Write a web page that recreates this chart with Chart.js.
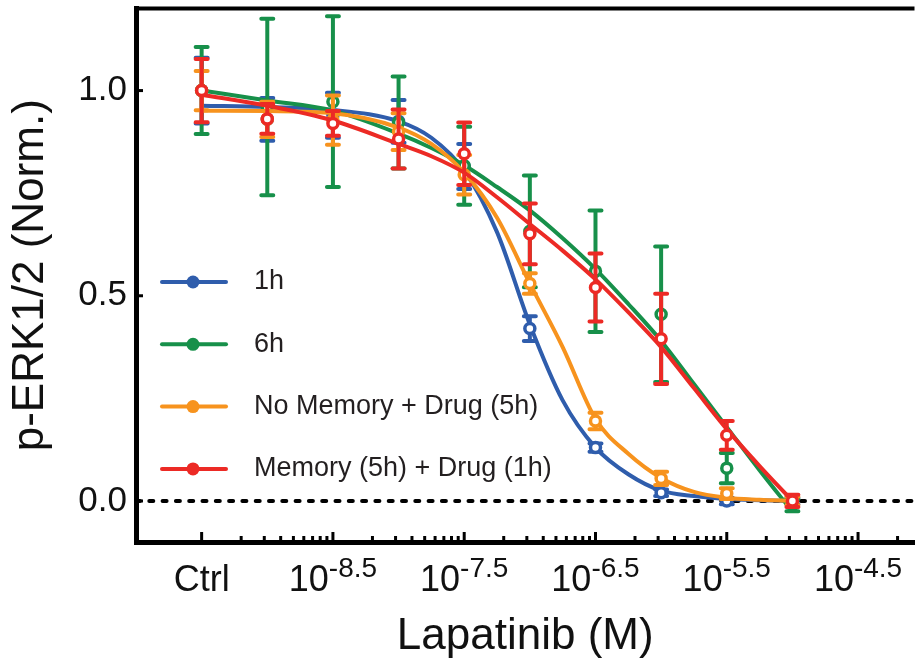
<!DOCTYPE html>
<html>
<head>
<meta charset="utf-8">
<script src="https://cdn.jsdelivr.net/npm/chart.js@4.4.1/dist/chart.umd.min.js"></script>
<style>
  html, body { margin: 0; padding: 0; background: #fff; overflow: hidden; }
  canvas { display: block; }
</style>
</head>
<body>
<canvas id="erk" width="923" height="667"></canvas>
<script>
// log10 of lapatinib dose (M); Ctrl is parked half a decade below the lowest dose
const doses = [-9.5, -9, -8.5, -8, -7.5, -7, -6.5, -6, -5.5, -5];

const mean1h = [1.0, 0.93, 0.94, 0.925, 0.815, 0.42, 0.13, 0.02, 0.0, 0.0];
const sem1h = [0.08, 0.052, 0.055, 0.052, 0.055, 0.03, 0.01, 0.008, 0.008, 0.008];
const mean6h = [1.0, 0.96, 0.973, 0.922, 0.817, 0.657, 0.56, 0.455, 0.08, -0.01];
const sem6h = [0.106, 0.215, 0.208, 0.112, 0.095, 0.136, 0.148, 0.165, 0.037, 0.015];
const meanNoMem = [1.0, 0.93, 0.928, 0.9, 0.795, 0.53, 0.195, 0.055, 0.018, 0.0];
const semNoMem = [0.048, 0.043, 0.06, 0.045, 0.048, 0.025, 0.02, 0.016, 0.013, 0.01];
const meanMem = [1.0, 0.931, 0.92, 0.882, 0.846, 0.651, 0.52, 0.395, 0.16, 0.0];
const semMem = [0.077, 0.036, 0.03, 0.072, 0.076, 0.074, 0.083, 0.11, 0.035, 0.015];

// dose-response fits
const fitDoses = [-9.5, -9, -8.5, -8, -7.75, -7.5, -7.25, -7, -6.75, -6.5, -6.25, -6, -5.75, -5.5, -5.25, -5];
const fit1h = [0.963, 0.96, 0.953, 0.925, 0.885, 0.805, 0.655, 0.43, 0.245, 0.13, 0.065, 0.025, 0.012, 0.005, 0.002, 0.0];
const fit6h = [1.0, 0.976, 0.951, 0.895, 0.86, 0.818, 0.765, 0.708, 0.64, 0.565, 0.48, 0.39, 0.285, 0.18, 0.075, -0.026];
const fitNoMem = [0.951, 0.95, 0.945, 0.91, 0.87, 0.8, 0.69, 0.53, 0.375, 0.2, 0.115, 0.056, 0.022, 0.008, 0.003, 0.0];
const fitMem = [0.99, 0.963, 0.927, 0.87, 0.84, 0.8, 0.74, 0.675, 0.61, 0.54, 0.46, 0.375, 0.275, 0.175, 0.085, 0.0];

const seriesNames = ['1h', '6h', 'No Memory + Drug (5h)', 'Memory (5h) + Drug (1h)'];
const seriesColors = ['#2f5dac', '#17904a', '#f7931e', '#ec2a25'];
const seriesMeans = [mean1h, mean6h, meanNoMem, meanMem];
const seriesSems = [sem1h, sem6h, semNoMem, semMem];
const seriesFits = [fit1h, fit6h, fitNoMem, fitMem];

const xTicks = [-9.5, -8.5, -7.5, -6.5, -5.5, -4.5];
const xTickLabels = ['Ctrl', '10^-8.5', '10^-7.5', '10^-6.5', '10^-5.5', '10^-4.5'];
const yTicks = [0, 0.5, 1.0];

const X_MIN = -10, X_MAX = -4.07;
const FONT = "'Liberation Sans', Arial, sans-serif";
const INK = '#111';

Chart.defaults.font.family = FONT;
Chart.defaults.color = INK;

const datasets = [{
    label: 'baseline',
    data: [{ x: X_MIN, y: 0 }, { x: X_MAX, y: 0 }],
    borderColor: '#000',
    borderWidth: 4,
    borderDash: [4, 9.3],
    borderCapStyle: 'round',
    pointRadius: 0,
    order: 20
}];

seriesNames.forEach((name, i) => {
    datasets.push({
        label: name + ' fit',
        data: fitDoses.map((d, j) => ({ x: d, y: seriesFits[i][j] })),
        borderColor: seriesColors[i],
        borderWidth: 4,
        cubicInterpolationMode: 'monotone',
        pointRadius: 0,
        order: 10 - 2 * i
    });
    datasets.push({
        label: name,
        data: doses.map((d, j) => ({ x: d, y: seriesMeans[i][j] })),
        errors: seriesSems[i],
        showLine: false,
        borderColor: seriesColors[i],
        backgroundColor: '#fff',
        pointRadius: 5,
        pointBorderWidth: 3.5,
        pointBackgroundColor: '#fff',
        order: 9 - 2 * i
    });
});

const errorBars = {
    id: 'errorBars',
    beforeDatasetDraw(chart, args) {
        const ds = chart.data.datasets[args.index];
        if (!ds.errors) return;
        const { ctx, chartArea: a, scales: { x, y } } = chart;
        ctx.save();
        ctx.beginPath();
        ctx.rect(a.left, a.top, a.right - a.left, a.bottom - a.top);
        ctx.clip();
        ctx.strokeStyle = ds.borderColor;
        ctx.lineWidth = 4;
        ctx.lineCap = 'round';
        ds.data.forEach((p, j) => {
            const e = ds.errors[j];
            const px = x.getPixelForValue(p.x);
            const top = y.getPixelForValue(p.y + e);
            const bot = y.getPixelForValue(p.y - e);
            ctx.beginPath();
            ctx.moveTo(px, top); ctx.lineTo(px, bot);
            ctx.moveTo(px - 6, top); ctx.lineTo(px + 6, top);
            ctx.moveTo(px - 6, bot); ctx.lineTo(px + 6, bot);
            ctx.stroke();
        });
        ctx.restore();
    }
};

// top frame line, inward tick marks, power-of-ten labels and the legend
const frame = {
    id: 'frame',
    afterDraw(chart) {
        const { ctx, chartArea: a, scales: { x, y } } = chart;
        ctx.save();
        ctx.strokeStyle = '#000';
        ctx.lineWidth = 4;
        ctx.beginPath();
        ctx.moveTo(a.left, a.top);
        ctx.lineTo(a.right, a.top);
        ctx.stroke();

        ctx.lineWidth = 3;
        const base = a.bottom - 2;
        xTicks.forEach(t => {
            const px = x.getPixelForValue(t);
            ctx.beginPath(); ctx.moveTo(px, base); ctx.lineTo(px, base - 8); ctx.stroke();
            for (let k = 2; k <= 9; k++) {
                const v = t + Math.log10(k);
                if (v > X_MAX) break;
                const mx = x.getPixelForValue(v);
                ctx.beginPath(); ctx.moveTo(mx, base); ctx.lineTo(mx, base - 4); ctx.stroke();
            }
        });
        yTicks.forEach(v => {
            const py = y.getPixelForValue(v);
            ctx.beginPath(); ctx.moveTo(a.left + 2, py); ctx.lineTo(a.left + 7, py); ctx.stroke();
        });

        ctx.fillStyle = INK;
        ctx.textBaseline = 'alphabetic';
        xTickLabels.forEach((lab, i) => {
            const px = x.getPixelForValue(xTicks[i]);
            const [b, sup] = lab.split('^');
            ctx.font = '36px ' + FONT;
            const wb = ctx.measureText(b).width;
            let ws = 0;
            if (sup) { ctx.font = '28px ' + FONT; ws = ctx.measureText(sup).width; }
            const left = px - (wb + ws) / 2;
            ctx.font = '36px ' + FONT;
            ctx.textAlign = 'left';
            ctx.fillText(b, left, 591);
            if (sup) {
                ctx.font = '28px ' + FONT;
                ctx.fillText(sup, left + wb, 577);
            }
        });

        seriesNames.forEach((name, i) => {
            const ly = 282 + i * 62.3;
            ctx.strokeStyle = seriesColors[i];
            ctx.fillStyle = seriesColors[i];
            ctx.lineWidth = 4;
            ctx.lineCap = 'round';
            ctx.beginPath(); ctx.moveTo(162, ly); ctx.lineTo(226, ly); ctx.stroke();
            ctx.beginPath(); ctx.arc(193, ly, 6.5, 0, Math.PI * 2); ctx.fill();
            ctx.fillStyle = '#231f20';
            ctx.font = '27px ' + FONT;
            ctx.textAlign = 'left';
            ctx.textBaseline = 'middle';
            ctx.fillText(name, 254, ly);
        });
        ctx.restore();
    }
};

new Chart(document.getElementById('erk').getContext('2d'), {
    type: 'line',
    data: { datasets },
    options: {
        responsive: false,
        animation: false,
        layout: { padding: { top: 8, right: 0, bottom: 0, left: 0 } },
        plugins: { legend: { display: false }, tooltip: { enabled: false } },
        scales: {
            x: {
                type: 'linear',
                min: X_MIN,
                max: X_MAX,
                grid: { display: false, drawTicks: false },
                border: { display: true, width: 5, color: '#000' },
                ticks: { display: false },
                title: { display: true, text: 'Lapatinib (M)', font: { size: 44 }, color: INK, padding: { top: 4, bottom: 4 } },
                afterFit(s) { s.height = 125; s.paddingLeft = 0; s.paddingRight = 0; }
            },
            y: {
                min: -0.1,
                max: 1.2,
                afterBuildTicks(s) { s.ticks = yTicks.map(v => ({ value: v })); },
                grid: { display: false, drawTicks: false },
                border: { display: true, width: 5, color: '#000' },
                ticks: { callback: v => v.toFixed(1), font: { size: 35 }, color: INK, padding: 9 },
                title: { display: true, text: 'p-ERK1/2 (Norm.)', font: { size: 44 }, color: INK, padding: { top: 4, bottom: 4 } },
                afterFit(s) { s.width = 136; s.paddingTop = 0; s.paddingBottom = 0; }
            }
        }
    },
    plugins: [errorBars, frame]
});
</script>
</body>
</html>
